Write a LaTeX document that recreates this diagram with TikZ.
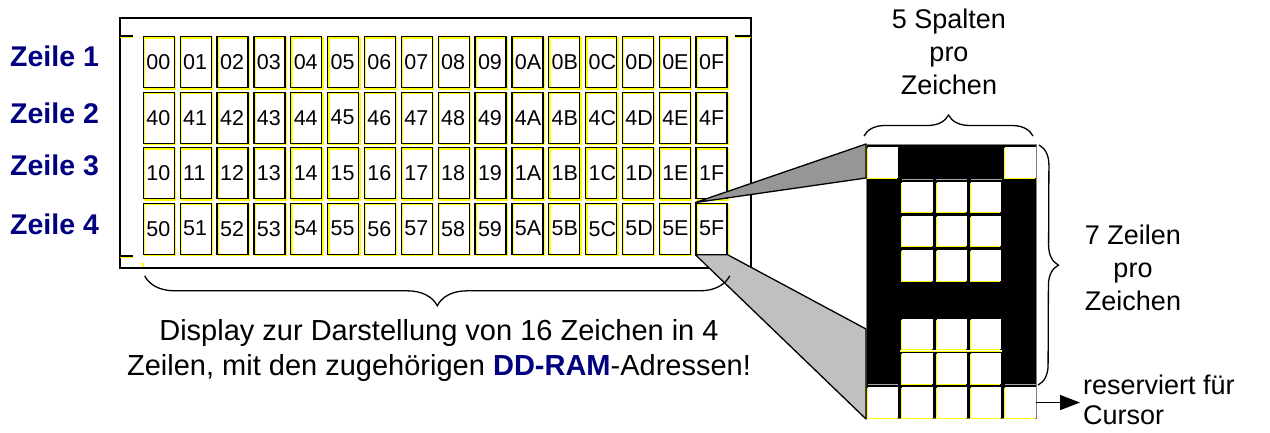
\documentclass[tikz,border=0pt]{standalone}
\usepackage{fontspec}
\setmainfont{Liberation Sans}
\usetikzlibrary{decorations.pathreplacing,arrows.meta,calc}
\definecolor{navy}{RGB}{0,0,128}
\definecolor{dkgray}{RGB}{150,150,150}
\definecolor{ltgray}{RGB}{192,192,192}
\definecolor{ylw}{RGB}{255,255,0}
\begin{document}
\begin{tikzpicture}[x=1pt,y=-1pt,
  cell/.style={draw=black, line width=1.3pt, minimum width=31pt, minimum height=51pt,
    inner xsep=3pt, inner ysep=0pt, text width=25pt, align=left, anchor=north west,
    font=\fontsize{21.5}{25}\selectfont,
    preaction={draw=ylw, line width=1.3pt, transform canvas={shift={(1.3pt,-1.3pt)}}}},
  lbl/.style={font=\fontsize{28.5}{30}\selectfont\bfseries, text=navy, inner sep=0pt, anchor=base west},
  px/.style={fill=white, minimum size=30.5pt, inner sep=0pt, anchor=north west,
    preaction={fill=ylw, transform canvas={shift={(-1pt,-1pt)}}}},
  txt/.style={font=\fontsize{27}{33}\selectfont, inner sep=0pt, align=center},
  brc/.style={decorate, line width=1.3pt},
  poly/.style={draw=black, line width=1.3pt, line join=round}
]
\useasboundingbox (0,0) rectangle (1270,432);
\fill[white] (0,0) rectangle (1270,432);

% display frame
\draw[line width=1.5pt] (120,18) rectangle (751,268);
\foreach \ya/\xa/\xb in {36/120/133, 36/735/751, 256/120/133}{
  \draw[ylw, line width=1.3pt] (\xa,\ya+1.3) -- (\xb,\ya+1.3);
  \draw[line width=1.3pt] (\xa,\ya) -- (\xb,\ya);
}
\draw[ylw, line width=1.3pt] (143,263) -- (143,267);

% DD-RAM cells
\foreach \r/\p/\yy in {0/0/36, 1/4/91.5, 2/1/147, 3/5/202.5}{
  \foreach \c/\h in {0/0,1/1,2/2,3/3,4/4,5/5,6/6,7/7,8/8,9/9,10/A,11/B,12/C,13/D,14/E,15/F}{
    \node[cell] (c-\r-\c) at ({142.7+36.85*\c},\yy) {\p\h};
  }
}

% row labels
\node[lbl] (z1) at (10,66) {Zeile 1};
\node[lbl] (z2) at (10,123) {Zeile 2};
\node[lbl] (z3) at (10,175) {Zeile 3};
\node[lbl] (z4) at (10,234) {Zeile 4};

% enlarged character matrix
\node[draw=gray, fill=black, line width=1pt, minimum width=170pt, minimum height=274pt,
  inner sep=0pt, anchor=north west] (mat) at (866,144) {};

% projection
\draw[poly, fill=dkgray] (c-3-15.north west) -- (mat.north west) -- ($(mat.north west)+(0,34)$) -- cycle;
\draw[poly, fill=ltgray] (c-3-15.south west) -- (c-3-15.south east) -- ($(mat.south west)+(0,-90)$) -- (mat.south west) -- cycle;

% white (off) pixels
\foreach \c/\r in {0/0,4/0, 1/1,2/1,3/1, 1/2,2/2,3/2, 1/3,2/3,3/3, 1/5,2/5,3/5, 1/6,2/6,3/6, 0/7,1/7,2/7,3/7,4/7}{
  \node[px] (p-\r-\c) at ({867.5+34.4*\c},{147+34.3*\r}) {};
}
\foreach \c in {1,2,3}{
  \draw[gray!70, line width=1.2pt] ($(p-1-\c.north west)+(0,-2)$) -- ($(p-1-\c.north east)+(0,-2)$);
}
\draw[gray!70, line width=1.2pt] ($(p-7-0.north west)+(0,-3)$) -- ($(p-7-0.north east)+(0,-3)$);
\draw[gray!70, line width=1.2pt] ($(p-7-4.north west)+(0,-3)$) -- ($(p-7-4.north east)+(0,-3)$);
\draw[ylw, line width=1pt] ($(p-6-1.north west)+(-2,-1)$) -- ($(p-6-3.north east)+(0,-1)$);
\draw[white, line width=1.2pt] ($(p-6-1.north west)+(-2,-2.5)$) -- ($(p-6-3.north east)+(0,-2.5)$);

% braces
\draw[brc, decoration={brace, amplitude=30pt}] ($(c-3-15.south east)+(2,21)$) -- ($(c-3-0.south west)+(2,21)$);
\draw[brc, decoration={brace, amplitude=21pt}] ($(mat.north west)+(-2,-8)$) -- ($(mat.north east)+(-4,-8)$);
\draw[brc, decoration={brace, amplitude=20pt}] ($(mat.north east)+(2,1)$) -- ($(p-7-4.north east)+(2,-2)$);

% cursor arrow
\coordinate (cur) at ($(p-7-4.east)+(44,0)$);
\draw[line width=1.3pt, -{Triangle[length=20pt,width=15pt]}] (p-7-4.east) -- (cur);

% texts
\node[txt, anchor=north] (t5) at (949,9) {5 Spalten\\pro\\Zeichen};
\node[txt, anchor=north] (t7) at (1133,225) {7 Zeilen\\pro\\Zeichen};
\node[txt, anchor=north west, align=left, font=\fontsize{27}{30}\selectfont] (tr) at (1083,375) {reserviert für\\Cursor};
\node[txt, anchor=north, font=\fontsize{29}{35}\selectfont] (cap) at (439,319) {Display zur Darstellung von 16 Zeichen in 4\\Zeilen, mit den zugehörigen {\bfseries\color{navy}DD-RAM}-Adressen!};
\end{tikzpicture}
\end{document}
